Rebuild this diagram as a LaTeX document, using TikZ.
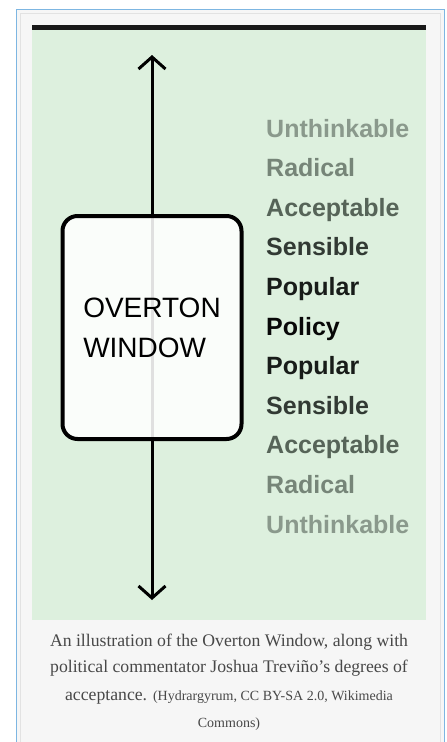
\documentclass[tikz,border=0pt]{standalone}
\usepackage{fontspec}
\setmainfont{Liberation Serif}
\newfontfamily\labelfont{Liberation Sans}
\usetikzlibrary{arrows.meta}
\definecolor{panelgreen}{RGB}{221,240,222}
\definecolor{pagegray}{RGB}{246,246,246}
\definecolor{edgegray}{RGB}{226,226,226}
\definecolor{frameblue}{RGB}{125,182,226}
\definecolor{captiongray}{RGB}{72,72,72}
\definecolor{unthinkable}{RGB}{138,153,140}
\definecolor{radical}{RGB}{118,133,120}
\definecolor{acceptable}{RGB}{86,100,88}
\definecolor{sensible}{RGB}{50,58,52}
\definecolor{popular}{RGB}{24,28,25}
\definecolor{policy}{RGB}{8,8,8}
\newcommand\creditsize{\fontsize{14}{27}\selectfont}
\tikzset{
  window/.style={draw,line width=4pt,rounded corners=15pt,fill=white,fill opacity=0.88,text opacity=1,
    minimum width=179pt,minimum height=223pt,align=left,inner sep=0pt,
    font=\labelfont\fontsize{28}{40}\selectfont},
  stance/.style={anchor=base west,inner sep=0pt,font=\labelfont\bfseries\fontsize{25}{30}\selectfont},
  caption/.style={anchor=base,inner sep=0pt,text=captiongray,font=\fontsize{17.7}{27}\selectfont},
  credit/.style={font=\creditsize}
}

\begin{document}
\begin{tikzpicture}[x=1pt,y=-1pt,>={Straight Barb[length=12pt,width=27pt]}]
      \clip (0,0) rectangle (447,742);
      % frame and panel
      \fill[pagegray] (17,10) rectangle (444,760);
      \draw[edgegray,line width=1pt] (20.5,13.5) rectangle (440.5,760);
      \draw[frameblue,line width=1.6pt] (16.5,9.5) rectangle (444.5,760);
      \fill[panelgreen] (32,25) rectangle (426,620);
      \fill[black!90] (32,25) rectangle (426,29.5);
      % arrow behind the window
      \coordinate (up) at (152, 55);
      \coordinate (down) at (152, 600);
      \draw[<->,line width=3pt] (up) -- (down);
      \node[window] (window) at (152, 327.5) {OVERTON\\WINDOW};
      % degrees of acceptance
      \node[stance,text=unthinkable] (u1) at (266, 137) {Unthinkable};
      \node[stance,text=radical]     (r1) at (266, 176.6) {Radical};
      \node[stance,text=acceptable]  (a1) at (266, 216.2) {Acceptable};
      \node[stance,text=sensible]    (s1) at (266, 255.8) {Sensible};
      \node[stance,text=popular]     (p1) at (266, 295.4) {Popular};
      \node[stance,text=policy]      (pol) at (266, 335) {Policy};
      \node[stance,text=popular]     (p2) at (266, 374.6) {Popular};
      \node[stance,text=sensible]    (s2) at (266, 414.2) {Sensible};
      \node[stance,text=acceptable]  (a2) at (266, 453.8) {Acceptable};
      \node[stance,text=radical]     (r2) at (266, 493.4) {Radical};
      \node[stance,text=unthinkable] (u2) at (266, 533) {Unthinkable};
      % caption
      \node[caption] (cap1) at (229, 646) {An illustration of the Overton Window, along with};
      \node[caption] (cap2) at (229, 672) {political commentator Joshua Treviño’s degrees of};
      \node[caption] (cap3) at (229, 700) {acceptance. {\creditsize (Hydrargyrum, CC BY-SA 2.0, Wikimedia}};
      \node[caption,credit] (cap4) at (229, 727) {Commons)};
    \end{tikzpicture}
\end{document}
